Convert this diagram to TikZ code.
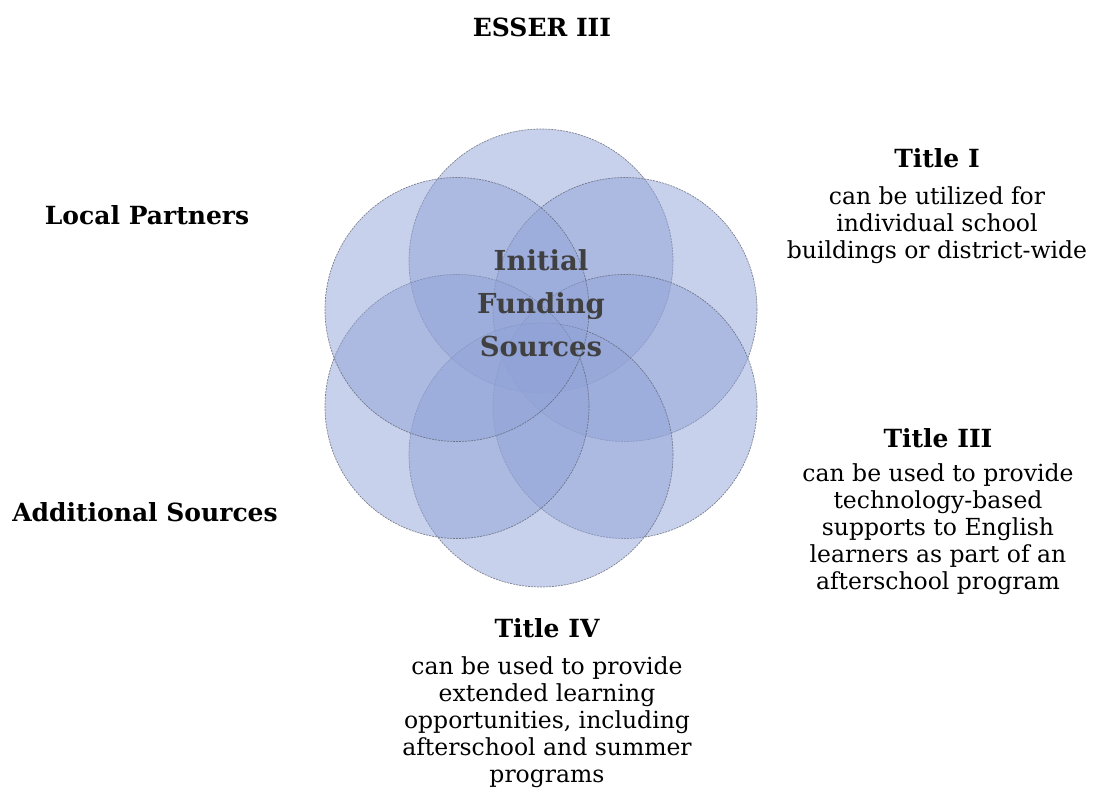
\documentclass[tikz,border=0pt]{standalone}
\usepackage{fontspec}
\setmainfont{DejaVu Serif}
\usetikzlibrary{calc}
\definecolor{petal}{RGB}{145,163,215}
\definecolor{petaledge}{RGB}{90,95,110}
\definecolor{centertext}{RGB}{64,64,64}
\begin{document}
\begin{tikzpicture}[x=1pt,y=-1pt,
  petalstyle/.style={circle, minimum size=264pt, inner sep=0pt, fill=petal, fill opacity=0.5,
     draw=petaledge, draw opacity=0.75, line width=0.7pt, dash pattern=on 2pt off 1pt},
  headtext/.style={font=\fontsize{25}{29}\selectfont\bfseries, inner sep=0pt, text=black},
  bodytext/.style={font=\fontsize{23.5}{27}\selectfont, inner sep=0pt, align=center, text=black}
]
\useasboundingbox (0,0) rectangle (1096,792);
\coordinate (ctr) at (541,358);
\foreach \a [count=\i] in {90,30,-30,-90,-150,150}{
  \node[petalstyle] (p\i) at ($(ctr)+(\a:97 and -97)$) {};
}
\node[font=\fontsize{27.5}{43}\selectfont\bfseries, text=centertext, align=center, inner sep=0pt] (core) at (541,303) {Initial\\Funding\\Sources};
\node[headtext] (esser) at (542,27) {ESSER III};
\node[headtext] (local) at (147,215) {Local Partners};
\node[headtext] (addl) at (145,512) {Additional Sources};
\node[headtext] (t1h) at (937,158) {Title I};
\node[bodytext, anchor=north] (t1b) at (937,186) {can be utilized for\\individual school\\buildings or district-wide};
\node[headtext] (t3h) at (938,438) {Title III};
\node[bodytext, anchor=north] (t3b) at (938,463) {can be used to provide\\technology-based\\supports to English\\learners as part of an\\afterschool program};
\node[headtext] (t4h) at (547,628) {Title IV};
\node[bodytext, anchor=north] (t4b) at (547,656) {can be used to provide\\extended learning\\opportunities, including\\afterschool and summer\\programs};
\end{tikzpicture}
\end{document}
